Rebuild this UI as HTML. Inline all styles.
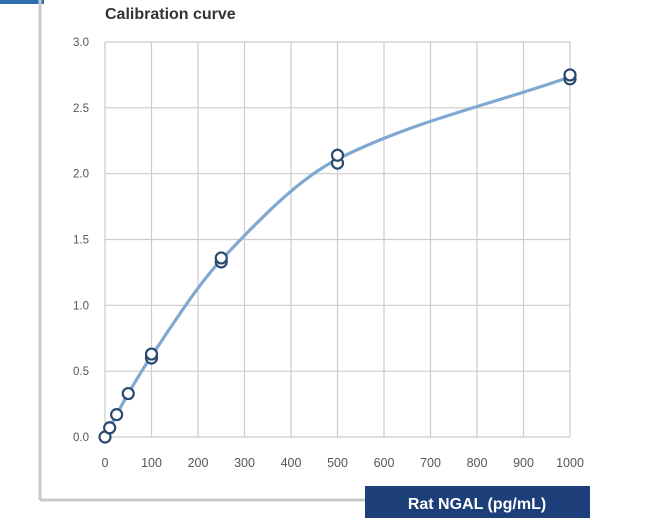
<!DOCTYPE html>
<html><head><meta charset="utf-8"><style>
body{margin:0;background:#fff;width:650px;height:518px;overflow:hidden;font-family:"Liberation Sans",sans-serif}
</style></head><body>
<svg id="chart" width="650" height="518" xmlns="http://www.w3.org/2000/svg">
<rect x="0" y="0" width="44" height="4" fill="#2d6fb0"/>
<line x1="40" y1="0" x2="40" y2="500" stroke="#c8c8c8" stroke-width="3"/>
<line x1="40" y1="500" x2="590" y2="500" stroke="#c8c8c8" stroke-width="3"/>
<text x="105" y="19" font-size="16" font-weight="bold" fill="#333">Calibration curve</text>
<g id="grid"></g><g id="curve"></g><g id="points"></g>
<rect x="365" y="486" width="225" height="32" fill="#1c3f7a"/>
<text x="477" y="509" font-size="16" font-weight="bold" fill="#fff" text-anchor="middle">Rat NGAL (pg/mL)</text>
</svg>
<script>
const xTicks=[0,100,200,300,400,500,600,700,800,900,1000];
const yTicks=[0,0.5,1.0,1.5,2.0,2.5,3.0];
const concs=[0,10,25,50,100,100,250,250,500,500,1000,1000];
const ods=[0.0,0.07,0.17,0.33,0.6,0.63,1.33,1.36,2.08,2.14,2.72,2.75];
const curveX=[0,10,25,50,100,250,500,1000];
const curveY=[0,0.07,0.17,0.33,0.615,1.345,2.11,2.735];
const NS="http://www.w3.org/2000/svg";
const X0=105,X1=570,Y0=437,Y1=42;
const sx=v=>X0+(X1-X0)*v/1000, sy=v=>Y0-(Y0-Y1)*v/3;
function mk(t,a,p){const e=document.createElementNS(NS,t);for(const k in a)e.setAttribute(k,a[k]);p.appendChild(e);return e;}
const grid=document.getElementById('grid');
xTicks.forEach(t=>{
 const l=mk('line',{x1:sx(t),x2:sx(t),y1:Y1,y2:Y0,stroke:'#cccccc','stroke-width':1.2},grid);
 
 
 const tx=mk('text',{x:sx(t),y:467,'font-size':12.5,fill:'#555','text-anchor':'middle'},grid);tx.textContent=t;
 
 
});
yTicks.forEach(t=>{
 const l=mk('line',{x1:X0,x2:X1,y1:sy(t),y2:sy(t),stroke:'#cccccc','stroke-width':1.2},grid);
 
 
 const tx=mk('text',{x:89,y:sy(t)+4,'font-size':11.5,fill:'#555','text-anchor':'end'},grid);tx.textContent=t.toFixed(1);
 
 
});
const px=curveX.map(sx),py=curveY.map(sy),n=px.length;
const d=[],m=[];for(let i=0;i<n-1;i++)d.push((py[i+1]-py[i])/(px[i+1]-px[i]));
m[0]=d[0];m[n-1]=d[n-2];for(let i=1;i<n-1;i++)m[i]=d[i-1]*d[i]<=0?0:2/(1/d[i-1]+1/d[i]);
let p='M'+px[0]+','+py[0];
for(let i=0;i<n-1;i++){const h=(px[i+1]-px[i])/3;p+=` C${px[i]+h},${py[i]+m[i]*h} ${px[i+1]-h},${py[i+1]-m[i+1]*h} ${px[i+1]},${py[i+1]}`;}
const c=mk('path',{d:p,fill:'none',stroke:'#7fa9d3','stroke-width':3.2},document.getElementById('curve'));


const pts=document.getElementById('points');
concs.forEach((v,i)=>{
 const e=mk('circle',{cx:sx(v),cy:sy(ods[i]),r:5.5,fill:'#fff',stroke:'#2a4a6e','stroke-width':2.2},pts);
 
 
});
</script>
</body></html>
